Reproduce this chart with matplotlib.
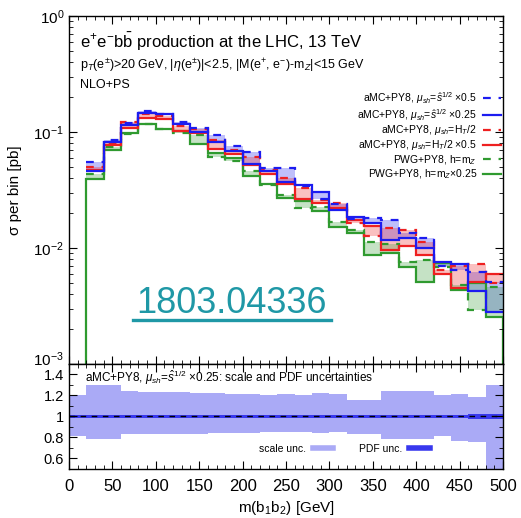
import numpy as np
import matplotlib
matplotlib.use('Agg')
import matplotlib.pyplot as plt
import matplotlib.transforms as mtransforms
from matplotlib.lines import Line2D
from matplotlib.ticker import MultipleLocator, LogLocator, NullFormatter

plt.rcParams['font.family'] = ['Liberation Sans', 'DejaVu Sans']
plt.rcParams['mathtext.fontset'] = 'custom'
plt.rcParams['mathtext.rm'] = 'Liberation Sans'
plt.rcParams['mathtext.it'] = 'Liberation Sans:italic'
plt.rcParams['mathtext.sf'] = 'Liberation Sans'

# m(b1 b2) bins, 20 GeV wide
mass_edges = np.arange(20, 501, 20)
ratio_edges = np.arange(0, 501, 20)

# sigma per bin [pb]
amc_shat_05 = [0.0551, 0.0853, 0.120, 0.152, 0.143, 0.122, 0.108, 0.094, 0.0757, 0.0673, 0.0489, 0.0489,
               0.0342, 0.0264, 0.0239, 0.0178, 0.0181, 0.0174, 0.0135, 0.0122, 0.0070, 0.00646, 0.00621, 0.00509]
amc_shat_025 = [0.0461, 0.082, 0.115, 0.146, 0.143, 0.117, 0.100, 0.082, 0.0686, 0.053, 0.0461, 0.0371,
                0.0349, 0.0304, 0.0213, 0.0185, 0.0164, 0.0117, 0.0122, 0.0100, 0.00757, 0.00728, 0.00426, 0.00281]
amc_ht = [0.0499, 0.0804, 0.122, 0.143, 0.137, 0.113, 0.106, 0.0853, 0.070, 0.0609, 0.047, 0.0401,
          0.0329, 0.0259, 0.0244, 0.0164, 0.0127, 0.0149, 0.0143, 0.0113, 0.00646, 0.0070, 0.00728, 0.00499]
amc_ht_05 = [0.047, 0.0773, 0.108, 0.132, 0.129, 0.102, 0.098, 0.0714, 0.0646, 0.052, 0.0435, 0.0356,
             0.0264, 0.0244, 0.0221, 0.0174, 0.0155, 0.0096, 0.0104, 0.00871, 0.00597, 0.00452, 0.00509, 0.00597]
pwg_mz = [0.0435, 0.0743, 0.096, 0.117, 0.106, 0.098, 0.094, 0.0609, 0.0562, 0.0461, 0.0349, 0.0286,
          0.0221, 0.0226, 0.0168, 0.0143, 0.0113, 0.0108, 0.00757, 0.00788, 0.00686, 0.0048, 0.00292, 0.00461]
pwg_mz_025 = [0.0393, 0.070, 0.098, 0.117, 0.106, 0.102, 0.0788, 0.0659, 0.0597, 0.0418, 0.0356, 0.027,
              0.0254, 0.0209, 0.0152, 0.0135, 0.00871, 0.00906, 0.00686, 0.00509, 0.00743, 0.00435, 0.00499, 0.00254]

# ratio panel: scale and PDF envelopes of aMC+PY8, mu_sh = shat^1/2 x 0.25
scale_up = [1.20, 1.30, 1.30, 1.24, 1.23, 1.23, 1.23, 1.22, 1.22, 1.21, 1.21, 1.20, 1.21,
            1.20, 1.22, 1.21, 1.16, 1.16, 1.24, 1.24, 1.24, 1.20, 1.21, 1.19, 1.30]
scale_dn = [0.81, 0.79, 0.79, 0.83, 0.83, 0.83, 0.83, 0.83, 0.84, 0.84, 0.84, 0.85, 0.85,
            0.85, 0.84, 0.85, 0.83, 0.83, 0.79, 0.79, 0.79, 0.81, 0.77, 0.76, 0.45]
pdf_up = [1.018, 1.018, 1.018, 1.018, 1.018, 1.018, 1.018, 1.018, 1.018, 1.018, 1.018, 1.018, 1.018,
          1.018, 1.018, 1.018, 1.018, 1.018, 1.018, 1.018, 1.018, 1.018, 1.018, 1.022, 1.022]
pdf_dn = [0.982, 0.982, 0.982, 0.982, 0.982, 0.982, 0.982, 0.982, 0.982, 0.982, 0.982, 0.982, 0.982,
          0.982, 0.982, 0.982, 0.982, 0.982, 0.982, 0.982, 0.982, 0.982, 0.982, 0.978, 0.978]

blue = '#1c1cf0'
red = '#ee2020'
green = '#2f9a2f'
dash = (0, (3.5, 3.5))

fig = plt.figure(figsize=(5.21, 5.18), dpi=100)
ax = fig.add_axes([0.1324, 0.2973, 0.8330, 0.6718])
axr = fig.add_axes([0.1324, 0.0946, 0.8330, 0.2027], sharex=ax)

# uncertainty envelopes between the two scale choices of each generator
ax.stairs(amc_shat_05, mass_edges, baseline=amc_shat_025, fill=True, color=blue, alpha=0.28, lw=0)
ax.stairs(amc_ht, mass_edges, baseline=amc_ht_05, fill=True, color=red, alpha=0.28, lw=0)
ax.stairs(pwg_mz, mass_edges, baseline=pwg_mz_025, fill=True, color=green, alpha=0.28, lw=0)

ax.stairs(pwg_mz_025, mass_edges, baseline=1e-4, color=green, lw=1.6)
ax.stairs(pwg_mz, mass_edges, baseline=None, color=green, lw=1.6, ls=dash)
ax.stairs(amc_ht_05, mass_edges, baseline=None, color=red, lw=1.6)
ax.stairs(amc_ht, mass_edges, baseline=None, color=red, lw=1.6, ls=dash)
ax.stairs(amc_shat_025, mass_edges, baseline=None, color=blue, lw=1.6)
ax.stairs(amc_shat_05, mass_edges, baseline=None, color=blue, lw=1.6, ls=dash)

ax.set_yscale('log')
ax.set_ylim(1e-3, 1)
ax.set_xlim(0, 500)
ax.yaxis.set_minor_locator(LogLocator(base=10, subs=np.arange(2, 10)))
ax.yaxis.set_minor_formatter(NullFormatter())
ax.set_ylabel('σ per bin [pb]', fontsize=11, labelpad=8)
ax.tick_params(labelbottom=False)

ax.text(0.025, 0.925, r'e$^{+}$e$^{-}$b$\bar{\rm b}$ production at the LHC, 13 TeV',
        transform=ax.transAxes, fontsize=12, va='center')
ax.text(0.025, 0.859, r'p$_{T}$(e$^{\pm}$)>20 GeV, |$\eta$(e$^{\pm}$)|<2.5, |M(e$^{+}$, e$^{-}$)-m$_{Z}$|<15 GeV',
        transform=ax.transAxes, fontsize=9, va='center')
ax.text(0.025, 0.802, 'NLO+PS', transform=ax.transAxes, fontsize=9, va='center')

labels = [r'aMC+PY8, $\mu_{sh}$=$\hat{s}^{1/2}$ ×0.5',
          r'aMC+PY8, $\mu_{sh}$=$\hat{s}^{1/2}$ ×0.25',
          r'aMC+PY8, $\mu_{sh}$=H$_{T}$/2',
          r'aMC+PY8, $\mu_{sh}$=H$_{T}$/2 ×0.5',
          r'PWG+PY8, h=m$_{Z}$',
          r'PWG+PY8, h=m$_{Z}$×0.25']
handles = [Line2D([], [], color=blue, lw=1.6, ls=dash),
           Line2D([], [], color=blue, lw=1.6),
           Line2D([], [], color=red, lw=1.6, ls=dash),
           Line2D([], [], color=red, lw=1.6),
           Line2D([], [], color=green, lw=1.6, ls=dash),
           Line2D([], [], color=green, lw=1.6)]
ax.legend(handles, labels, loc='upper right', bbox_to_anchor=(0.995, 0.787), frameon=False,
          fontsize=7.5, markerfirst=False, handlelength=1.7, handletextpad=0.6,
          labelspacing=0.08, borderpad=0, borderaxespad=0)

ax.text(0.3756, 0.175, '1803.04336', transform=ax.transAxes, fontsize=26,
        color='#1f98a6', ha='center', va='center')
fig.add_artist(Line2D([133 / 521, 331 / 521], [1 - 320 / 518, 1 - 320 / 518],
                      color='#1f98a6', lw=2.4))

# ratio panel
axr.stairs(scale_up, ratio_edges, baseline=scale_dn, fill=True, color='#aaaaf6', lw=0)
axr.stairs(pdf_up, ratio_edges, baseline=pdf_dn, fill=True, color='#3838ee', lw=0)
axr.axhline(1.0, color='black', lw=1.0, ls=(0, (4, 4)))
axr.set_ylim(0.5, 1.5)
axr.set_yticks([0.6, 0.8, 1.0, 1.2, 1.4])
axr.set_yticklabels(['0.6', '0.8', '1', '1.2', '1.4'])
axr.yaxis.set_minor_locator(MultipleLocator(0.1))
axr.set_xticks(np.arange(0, 501, 50))
axr.xaxis.set_minor_locator(MultipleLocator(10))
axr.set_xlabel(r'm(b$_{1}$b$_{2}$) [GeV]', fontsize=11)
axr.text(0.037, 0.867, r'aMC+PY8, $\mu_{sh}$=$\hat{s}^{1/2}$ ×0.25: scale and PDF uncertainties',
         transform=axr.transAxes, fontsize=8.5, va='center')
band_handles = [Line2D([], [], color='#aaaaf6', lw=4), Line2D([], [], color='#3838ee', lw=4)]
axr.legend(band_handles, ['scale unc.', 'PDF unc.'], loc='center', bbox_to_anchor=(0.635, 0.19),
           ncol=2, frameon=False, fontsize=7.5, markerfirst=False, handlelength=2.0,
           handletextpad=0.6, columnspacing=2.5, borderpad=0, borderaxespad=0)

for a in (ax, axr):
    a.tick_params(which='both', direction='in', top=True, right=True, labelsize=11)
    a.tick_params(which='major', length=6)
    a.tick_params(which='minor', length=3)
    for s in a.spines.values():
        s.set_linewidth(1.0)
axr.tick_params(axis='y', labelsize=10.5)
axr.tick_params(axis='x', pad=7, labelsize=12)

# lift the 10^-3 label a little so it clears the ratio panel's top label
fig.canvas.draw()
lift = mtransforms.ScaledTranslation(0, 4 / 72, fig.dpi_scale_trans)
for lab in ax.get_yticklabels():
    if lab.get_position()[1] == 1e-3:
        lab.set_transform(lab.get_transform() + lift)

fig.savefig('out.png', dpi=100)
